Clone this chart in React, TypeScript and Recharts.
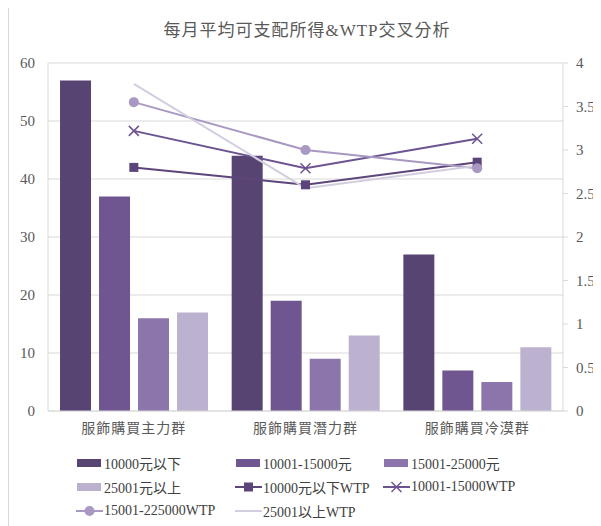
import React from 'react';
import { ComposedChart, Bar, Line, XAxis, YAxis, CartesianGrid, Legend } from 'recharts';

const categories = ['服飾購買主力群', '服飾購買潛力群', '服飾購買冷漠群'];

// bar series (left axis, people count)
const income10000Below = [57, 44, 27];
const income10001to15000 = [37, 19, 7];
const income15001to25000 = [16, 9, 5];
const income25001Above = [17, 13, 11];

// WTP lines (right axis)
const wtp10000Below = [2.8, 2.6, 2.86];
const wtp10001to15000 = [3.22, 2.79, 3.13];
const wtp15001to225000 = [3.55, 3.0, 2.79];
const wtp25001Above = [3.76, 2.56, 2.82];

const leftTicks = [0, 10, 20, 30, 40, 50, 60];
const rightTicks = [0, 0.5, 1, 1.5, 2, 2.5, 3, 3.5, 4];

const data = categories.map((name, i) => ({
  name,
  b1: income10000Below[i],
  b2: income10001to15000[i],
  b3: income15001to25000[i],
  b4: income25001Above[i],
  l1: wtp10000Below[i],
  l2: wtp10001to15000[i],
  l3: wtp15001to225000[i],
  l4: wtp25001Above[i],
}));

type Marker = 'square' | 'x' | 'circle' | 'none';
const barSeries = [
  { key: 'b1', name: '10000元以下', color: '#574472' },
  { key: 'b2', name: '10001-15000元', color: '#705690' },
  { key: 'b3', name: '15001-25000元', color: '#8c75ab' },
  { key: 'b4', name: '25001元以上', color: '#bcb2cf' },
];
const lineSeries: { key: string; name: string; color: string; marker: Marker }[] = [
  { key: 'l1', name: '10000元以下WTP', color: '#5c457a', marker: 'square' },
  { key: 'l2', name: '10001-15000WTP', color: '#6c5391', marker: 'x' },
  { key: 'l3', name: '15001-225000WTP', color: '#a898c2', marker: 'circle' },
  { key: 'l4', name: '25001以上WTP', color: '#d3cde0', marker: 'none' },
];

const FONT = "'Liberation Serif', 'Noto Sans CJK TC', serif";
const TEXT = '#595959';
const GRID = '#d9d9d9';

const drawMarker = (marker: Marker, cx: number, cy: number, color: string, key?: string) => {
  if (marker === 'square') {
    return <rect key={key} x={cx - 4.5} y={cy - 4.5} width={9} height={9} fill={color} />;
  }
  if (marker === 'circle') {
    return <circle key={key} cx={cx} cy={cy} r={5} fill={color} />;
  }
  if (marker === 'x') {
    return (
      <g key={key} stroke={color} strokeWidth={1.5}>
        <line x1={cx - 5} y1={cy - 5} x2={cx + 5} y2={cy + 5} />
        <line x1={cx - 5} y1={cy + 5} x2={cx + 5} y2={cy - 5} />
      </g>
    );
  }
  return <g key={key} />;
};

const legendItems = [
  ...barSeries.map(s => ({ name: s.name, color: s.color, kind: 'bar' as const, marker: 'none' as Marker })),
  ...lineSeries.map(s => ({ name: s.name, color: s.color, kind: 'line' as const, marker: s.marker })),
];
const colLeft = [67, 226, 374];

const renderLegend = () => (
  <div style={{ position: 'relative', width: 592, height: 72, fontFamily: FONT, fontSize: 14, color: '#404040' }}>
    {legendItems.map((it, i) => {
      const row = Math.floor(i / 3);
      const col = i % 3;
      return (
        <div
          key={it.name}
          style={{
            position: 'absolute',
            left: colLeft[col],
            top: row * 24,
            height: 24,
            display: 'flex',
            alignItems: 'center',
            whiteSpace: 'nowrap',
          }}
        >
          <svg width={27} height={14} style={{ marginRight: 1 }}>
            {it.kind === 'bar' ? (
              <rect x={1} y={3} width={24} height={8} fill={it.color} />
            ) : (
              <g>
                <line x1={0} y1={7} x2={27} y2={7} stroke={it.color} strokeWidth={2} />
                {drawMarker(it.marker, 13.5, 7, it.color)}
              </g>
            )}
          </svg>
          <span>{it.name}</span>
        </div>
      );
    })}
  </div>
);

export default function App() {
  return (
    <div
      style={{
        position: 'relative',
        width: 593,
        height: 518,
        marginTop: -1,
        borderLeft: `1px solid ${GRID}`,
        borderTop: `1px solid ${GRID}`,
        background: '#fff',
        fontFamily: FONT,
      }}
    >
      <div
        style={{
          position: 'absolute',
          left: 0,
          width: 596,
          top: 13,
          lineHeight: '20px',
          textAlign: 'center',
          fontSize: 17,
          color: TEXT,
          letterSpacing: 1,
        }}
      >
        每月平均可支配所得&amp;WTP交叉分析
      </div>
      <ComposedChart
        width={592}
        height={517}
        data={data}
        margin={{ top: 55, right: 0, left: 0, bottom: 2 }}
        barCategoryGap="7%"
        barGap={8}
      >
        <CartesianGrid yAxisId="left" vertical={false} stroke={GRID} strokeWidth={1} />
        <XAxis
          dataKey="name"
          height={40}
          axisLine={{ stroke: GRID }}
          tickLine={false}
          tickSize={0}
          tickMargin={12}
          tick={{ fill: TEXT, fontSize: 14, letterSpacing: 1 }}
        />
        <YAxis
          yAxisId="left"
          orientation="left"
          width={39}
          domain={[0, 60]}
          ticks={leftTicks}
          axisLine={{ stroke: GRID }}
          tickLine={false}
          tickSize={0}
          tickMargin={13}
          tick={{ fill: TEXT, fontSize: 15 }}
        />
        <YAxis
          yAxisId="right"
          orientation="right"
          width={38}
          domain={[0, 4]}
          ticks={rightTicks}
          axisLine={{ stroke: GRID }}
          tickLine={{ stroke: GRID }}
          tickSize={5}
          tickMargin={8}
          tick={{ fill: TEXT, fontSize: 15 }}
        />
        <Legend verticalAlign="bottom" content={renderLegend} wrapperStyle={{ width: 592, left: 0 }} />
        {barSeries.map(s => (
          <Bar key={s.key} yAxisId="left" dataKey={s.key} name={s.name} fill={s.color} isAnimationActive={false} />
        ))}
        {lineSeries.map(s => (
          <Line
            key={s.key}
            yAxisId="right"
            type="linear"
            dataKey={s.key}
            name={s.name}
            stroke={s.color}
            strokeWidth={2}
            dot={(p: any) => drawMarker(s.marker, p.cx, p.cy, s.color, `${s.key}-${p.index}`)}
            activeDot={false}
            isAnimationActive={false}
          />
        ))}
      </ComposedChart>
    </div>
  );
}
